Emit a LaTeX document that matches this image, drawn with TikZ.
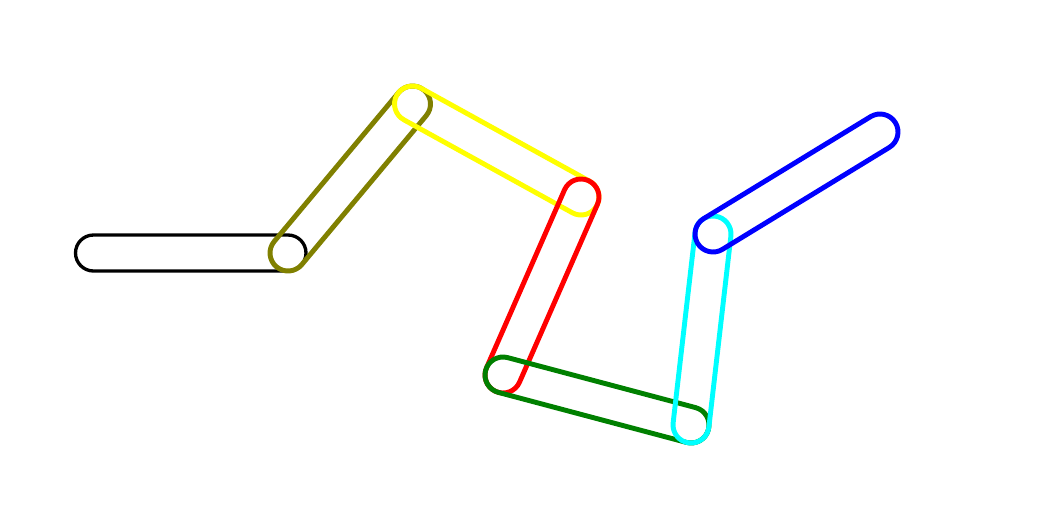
\documentclass[tikz,border=0pt]{standalone}
\usepackage{tikz}
\usetikzlibrary{calc}
\definecolor{linkolive}{RGB}{128,128,0}
\definecolor{linkgreen}{RGB}{0,128,0}
\definecolor{linkyellow}{RGB}{255,255,0}
\definecolor{linkred}{RGB}{255,0,0}
\definecolor{linkcyan}{RGB}{0,255,255}
\definecolor{linkblue}{RGB}{0,0,255}
\newcommand{\linkrad}{0.36cm}
% outline of one rounded link between two joints
\newcommand{\linkbar}[3]{%
  \draw[#1] let \p1=($(#3)-(#2)$), \n1={atan2(\y1,\x1)} in
    ($(#2)+(\n1+90:\linkrad)$) -- ($(#3)+(\n1+90:\linkrad)$)
    arc[start angle=\n1+90, delta angle=-180, radius=\linkrad]
    -- ($(#2)+(\n1-90:\linkrad)$)
    arc[start angle=\n1-90, delta angle=-180, radius=\linkrad] -- cycle;}

\begin{document}
\begin{tikzpicture}[x=0.02cm, y=-0.02cm]
  \tikzset{link/.style={draw=#1, line width=2.8pt, line join=round}}
  \useasboundingbox (0,0) rectangle (1043,504);
  \coordinate (j0) at (93.5,253);
  \coordinate (j1) at (288,253);
  \coordinate (j2) at (412.5,104);
  \coordinate (j3) at (581,197);
  \coordinate (j4) at (503,375);
  \coordinate (j5) at (691,425);
  \coordinate (j6) at (713,234);
  \coordinate (j7) at (880,132);
  \linkbar{link=black, line width=1.9pt}{j0}{j1}
  \foreach \a/\b/\c in {j1/j2/linkolive, j2/j3/linkyellow, j3/j4/linkred,
                        j4/j5/linkgreen, j5/j6/linkcyan, j6/j7/linkblue}
    {\linkbar{link=\c}{\a}{\b}}
\end{tikzpicture}
\end{document}
